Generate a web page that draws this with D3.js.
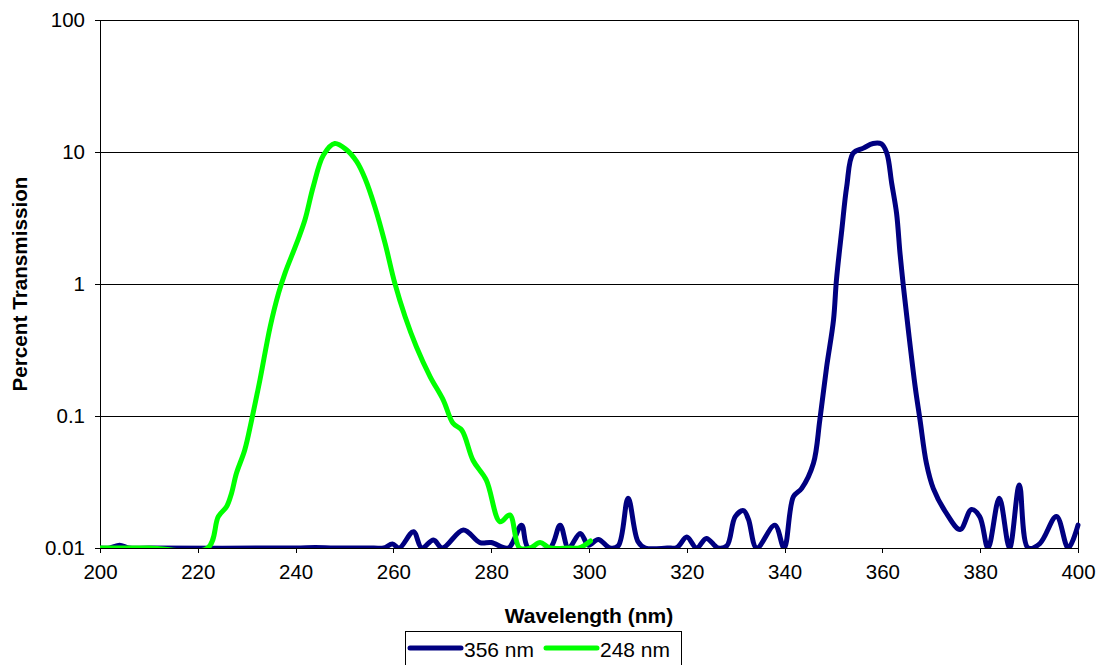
<!DOCTYPE html>
<html><head><meta charset="utf-8">
<script src="https://cdn.jsdelivr.net/npm/d3@7"></script>
<style>
html,body{margin:0;padding:0;background:#fff;}
svg{display:block;font-family:"Liberation Sans",Arial,sans-serif;}
</style></head>
<body><svg id="c" width="1098" height="665"></svg>
<script>
// ---- data ----
const seriesNames = ["356 nm", "248 nm"];
const xTicks = [200, 220, 240, 260, 280, 300, 320, 340, 360, 380, 400];
const yTicks = [0.01, 0.1, 1, 10, 100];
const yTickLabels = ["0.01", "0.1", "1", "10", "100"];

const wl356 = [200,202,204,206,210,240,244,248,256,258,259.8,261.2,264.1,265.8,268.2,270,274.3,277.7,280,283.5,286.2,287.6,292,294.1,295.8,298.2,299.9,301.9,304.3,306,308,310,311.5,316,318,320,322,324,326.4,328.2,329.9,331.6,332.6,334.3,338,339.9,341.8,343.5,345.9,347.2,348.6,350,350.6,351.7,352.7,354,356.1,358.1,359.8,360.9,361.9,362.9,363.6,364.3,365.3,366.7,367.7,369,370.4,373.1,375.9,378.2,379.9,381.6,383.9,386,388,389.8,392.2,395.6,398,400];
const t356 = [0.01,0.01,0.0105,0.01,0.01,0.01,0.0101,0.01,0.01,0.01,0.0107,0.01,0.0133,0.01,0.0115,0.01,0.0137,0.011,0.011,0.01,0.0149,0.01,0.01,0.0149,0.01,0.0129,0.0105,0.0116,0.01,0.0104,0.0238,0.0112,0.01,0.01,0.0101,0.0121,0.01,0.0118,0.01,0.0104,0.0173,0.0192,0.0165,0.01,0.0149,0.01,0.0245,0.0283,0.0438,0.093,0.236,0.534,1.07,2.57,5.46,9.77,10.7,11.6,11.5,9.8,5.8,3.43,1.71,0.955,0.449,0.167,0.093,0.0438,0.0283,0.0183,0.0138,0.0196,0.0173,0.01,0.0238,0.01,0.03,0.01,0.0108,0.0173,0.01,0.0149];

const wl248 = [200,210,222,224.2,225.9,226.9,227.9,229.6,231,232.7,234.8,236.5,237.8,240.2,241.9,243.6,245.7,248,250.4,252.5,254.2,256.2,258.3,260.3,262.4,264.7,267.5,270.2,272.2,274,276.3,279,281.8,283.8,285.8,288,290,292,296,298,300.3];
const t248 = [0.01,0.01,0.01,0.0173,0.0206,0.026,0.0368,0.0553,0.093,0.187,0.475,0.85,1.2,2.03,3.05,5.46,9.49,11.6,10.4,8.45,6.3,3.85,2.03,1.01,0.565,0.335,0.199,0.132,0.088,0.078,0.046,0.0327,0.0158,0.0178,0.01,0.01,0.011,0.01,0.01,0.01,0.0113];

const colors = ["#000080", "#00ff00"];

// ---- layout ----
const L = 100, T = 20, R = 1078, B = 548;
const svg = d3.select("#c");

const x = d3.scaleLinear().domain([200, 400]).range([L, R]);
const y = d3.scaleLog().domain([0.01, 100]).range([B, T]);

svg.append("defs").append("clipPath").attr("id","pa")
  .append("rect").attr("x", L).attr("y", T - 3).attr("width", R - L + 3).attr("height", B - T + 3);

// gridlines
svg.append("g").selectAll("line").data(yTicks.slice(1)).join("line")
  .attr("x1", L).attr("x2", R).attr("y1", d => y(d)).attr("y2", d => y(d))
  .attr("stroke", "#000").attr("stroke-width", 1).attr("shape-rendering","crispEdges");
// right border
svg.append("line").attr("x1", R).attr("x2", R).attr("y1", T).attr("y2", B)
  .attr("stroke", "#000").attr("shape-rendering","crispEdges");

// axes
const yAxis = d3.axisLeft(y).tickValues(yTicks).tickFormat((d, i) => yTickLabels[i]).tickSize(5).tickPadding(10);
const gy = svg.append("g").attr("transform", `translate(${L},0)`).call(yAxis);
const xAxis = d3.axisBottom(x).tickValues(xTicks).tickFormat(d3.format("d")).tickSize(5).tickPadding(11);
const gx = svg.append("g").attr("transform", `translate(0,${B})`).call(xAxis);
[gx, gy].forEach(g => {
  g.selectAll("text").attr("font-size", 20.5).attr("fill", "#000").attr("font-family", "Liberation Sans, Arial, sans-serif");
  g.select(".domain").attr("stroke", "#000").attr("shape-rendering","crispEdges");
  g.selectAll(".tick line").attr("stroke", "#000").attr("shape-rendering","crispEdges");
});

// lines
const line = d3.line().x(d => x(d[0])).y(d => y(d[1])).curve(d3.curveCatmullRom.alpha(0.5));
const series = [d3.zip(wl356, t356), d3.zip(wl248, t248)];
svg.append("g").attr("clip-path","url(#pa)").selectAll("path").data(series).join("path")
  .attr("d", line).attr("fill", "none").attr("stroke", (d, i) => colors[i])
  .attr("stroke-width", 5).attr("stroke-linejoin","round").attr("stroke-linecap","round");

// axis titles
svg.append("text").attr("x", (L + R) / 2).attr("y", 623).attr("text-anchor", "middle")
  .attr("font-size", 21).attr("font-weight", "bold").text("Wavelength (nm)");
svg.append("text").attr("transform", `translate(27,${(T + B) / 2}) rotate(-90)`).attr("text-anchor", "middle")
  .attr("font-size", 20.7).attr("font-weight", "bold").text("Percent Transmission");

// legend
const lg = svg.append("g");
lg.append("rect").attr("x", 405.5).attr("y", 631.5).attr("width", 276).attr("height", 40)
  .attr("fill", "#fff").attr("stroke", "#000").attr("stroke-width", 1);
const lx = [410, 546];
seriesNames.forEach((n, i) => {
  lg.append("line").attr("x1", lx[i]).attr("x2", lx[i] + 51).attr("y1", 648).attr("y2", 648)
    .attr("stroke", colors[i]).attr("stroke-width", 5).attr("stroke-linecap","round");
  lg.append("text").attr("x", lx[i] + 54).attr("y", 656.5).attr("font-size", 21).text(n);
});
</script></body></html>
